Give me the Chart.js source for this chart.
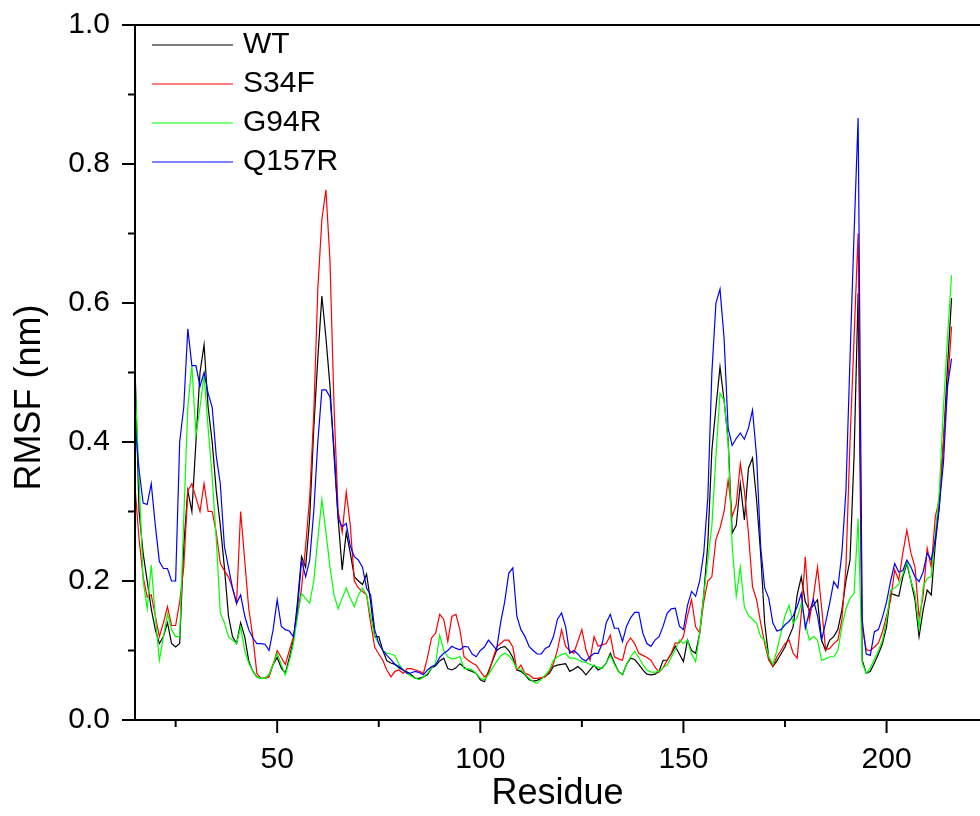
<!DOCTYPE html>
<html>
<head>
<meta charset="utf-8">
<script src="https://cdn.jsdelivr.net/npm/chart.js@4.4.1/dist/chart.umd.min.js"></script>
<style>
  html, body { margin: 0; padding: 0; background: #fff; }
</style>
</head>
<body>
<canvas id="rmsfChart" width="980" height="816"></canvas>
<script>
// residues 15..216, one value per residue (nm)
const firstResidue = 15;

const wt = [
  0.51, 0.30, 0.24, 0.20, 0.16, 0.13, 0.11, 0.12, 0.14, 0.11,
  0.105, 0.11, 0.25, 0.33, 0.30, 0.40, 0.50, 0.54, 0.45, 0.40,
  0.33, 0.28, 0.22, 0.15, 0.12, 0.11, 0.14, 0.12, 0.085, 0.07,
  0.062, 0.06, 0.06, 0.065, 0.08, 0.09, 0.075, 0.067, 0.09, 0.115,
  0.17, 0.235, 0.22, 0.29, 0.42, 0.52, 0.61, 0.55, 0.48, 0.38,
  0.29, 0.216, 0.27, 0.24, 0.206, 0.20, 0.195, 0.21, 0.17, 0.12,
  0.12, 0.10, 0.085, 0.082, 0.08, 0.075, 0.072, 0.069, 0.065, 0.06,
  0.06, 0.062, 0.065, 0.075, 0.078, 0.085, 0.089, 0.074, 0.072, 0.075,
  0.081, 0.076, 0.072, 0.07, 0.067, 0.058, 0.055, 0.07, 0.085, 0.10,
  0.104, 0.106, 0.10, 0.09, 0.072, 0.07, 0.065, 0.058, 0.056, 0.057,
  0.06, 0.063, 0.067, 0.077, 0.079, 0.08, 0.081, 0.07, 0.073, 0.077,
  0.072, 0.065, 0.072, 0.079, 0.072, 0.075, 0.082, 0.096, 0.082, 0.07,
  0.065, 0.08, 0.089, 0.087, 0.08, 0.072, 0.066, 0.065, 0.066, 0.07,
  0.086, 0.086, 0.095, 0.106, 0.095, 0.084, 0.115, 0.10, 0.096, 0.125,
  0.18, 0.254, 0.388, 0.45, 0.508, 0.46, 0.403, 0.269, 0.28, 0.34,
  0.288, 0.362, 0.377, 0.317, 0.24, 0.14, 0.09, 0.077, 0.085, 0.095,
  0.105, 0.12, 0.134, 0.18, 0.206, 0.17, 0.158, 0.165, 0.173, 0.115,
  0.10, 0.115, 0.12, 0.13, 0.158, 0.20, 0.23, 0.38, 0.614, 0.086,
  0.067, 0.07, 0.082, 0.095, 0.11, 0.134, 0.182, 0.18, 0.178, 0.206,
  0.225, 0.20, 0.173, 0.12, 0.158, 0.187, 0.18, 0.254, 0.307, 0.40,
  0.508, 0.607
];

const s34f = [
  0.336, 0.26, 0.206, 0.177, 0.18, 0.15, 0.12, 0.14, 0.163, 0.136,
  0.136, 0.17, 0.22, 0.33, 0.34, 0.32, 0.30, 0.34, 0.30, 0.30,
  0.27, 0.225, 0.215, 0.206, 0.19, 0.168, 0.30, 0.23, 0.16, 0.12,
  0.067, 0.06, 0.06, 0.062, 0.08, 0.10, 0.09, 0.08, 0.10, 0.12,
  0.15, 0.19, 0.25, 0.32, 0.44, 0.62, 0.72, 0.763, 0.66, 0.45,
  0.30, 0.27, 0.328, 0.28, 0.20, 0.19, 0.185, 0.18, 0.14, 0.105,
  0.095, 0.086, 0.072, 0.062, 0.07, 0.072, 0.067, 0.074, 0.074, 0.072,
  0.07, 0.067, 0.09, 0.118, 0.125, 0.152, 0.145, 0.113, 0.149, 0.152,
  0.129, 0.091, 0.086, 0.082, 0.079, 0.07, 0.062, 0.067, 0.086, 0.105,
  0.11, 0.115, 0.115, 0.105, 0.072, 0.079, 0.067, 0.065, 0.06, 0.06,
  0.061, 0.062, 0.07, 0.081, 0.101, 0.13, 0.106, 0.10, 0.096, 0.113,
  0.13, 0.101, 0.086, 0.12, 0.106, 0.108, 0.11, 0.122, 0.091, 0.088,
  0.086, 0.11, 0.118, 0.11, 0.096, 0.093, 0.09, 0.086, 0.076, 0.069,
  0.075, 0.086, 0.096, 0.111, 0.111, 0.12, 0.15, 0.173, 0.134, 0.125,
  0.17, 0.20, 0.206, 0.26, 0.276, 0.30, 0.345, 0.293, 0.31, 0.369,
  0.33, 0.269, 0.192, 0.173, 0.14, 0.11, 0.086, 0.077, 0.091, 0.10,
  0.11, 0.115, 0.096, 0.089, 0.153, 0.235, 0.144, 0.178, 0.22, 0.163,
  0.101, 0.103, 0.11, 0.115, 0.144, 0.22, 0.40, 0.55, 0.70, 0.134,
  0.101, 0.10, 0.105, 0.111, 0.127, 0.15, 0.173, 0.216, 0.201, 0.24,
  0.273, 0.24, 0.22, 0.147, 0.178, 0.247, 0.22, 0.293, 0.317, 0.40,
  0.48, 0.566
];

const g94r = [
  0.49, 0.35, 0.20, 0.16, 0.223, 0.149, 0.086, 0.12, 0.153, 0.13,
  0.12, 0.12, 0.29, 0.45, 0.51, 0.41, 0.45, 0.496, 0.42, 0.35,
  0.26, 0.154, 0.14, 0.12, 0.115, 0.11, 0.134, 0.10, 0.082, 0.07,
  0.062, 0.06, 0.06, 0.065, 0.08, 0.096, 0.08, 0.065, 0.085, 0.11,
  0.15, 0.182, 0.175, 0.168, 0.20, 0.26, 0.317, 0.27, 0.22, 0.18,
  0.16, 0.175, 0.19, 0.175, 0.163, 0.18, 0.19, 0.18, 0.15, 0.12,
  0.11, 0.10, 0.096, 0.095, 0.093, 0.08, 0.072, 0.067, 0.063, 0.06,
  0.058, 0.062, 0.067, 0.075, 0.082, 0.122, 0.10, 0.091, 0.088, 0.089,
  0.091, 0.074, 0.074, 0.072, 0.067, 0.06, 0.058, 0.065, 0.075, 0.084,
  0.092, 0.096, 0.093, 0.085, 0.074, 0.073, 0.066, 0.06, 0.055, 0.053,
  0.058, 0.065, 0.072, 0.086, 0.091, 0.094, 0.096, 0.089, 0.089, 0.087,
  0.084, 0.083, 0.08, 0.078, 0.076, 0.074, 0.082, 0.093, 0.08, 0.07,
  0.065, 0.08, 0.091, 0.099, 0.09, 0.08, 0.072, 0.069, 0.069, 0.07,
  0.075, 0.079, 0.09, 0.101, 0.115, 0.11, 0.115, 0.095, 0.084, 0.125,
  0.18, 0.23, 0.28, 0.38, 0.47, 0.46, 0.40, 0.25, 0.178, 0.22,
  0.163, 0.15, 0.145, 0.139, 0.12, 0.115, 0.091, 0.08, 0.10, 0.125,
  0.15, 0.165, 0.139, 0.147, 0.168, 0.139, 0.115, 0.12, 0.115, 0.086,
  0.088, 0.091, 0.091, 0.10, 0.134, 0.16, 0.175, 0.182, 0.29, 0.082,
  0.067, 0.075, 0.087, 0.10, 0.115, 0.144, 0.187, 0.19, 0.195, 0.21,
  0.228, 0.20, 0.182, 0.132, 0.192, 0.204, 0.206, 0.269, 0.33, 0.45,
  0.55, 0.64
];

const q157r = [
  0.427, 0.36, 0.312, 0.31, 0.34, 0.28, 0.228, 0.218, 0.218, 0.20,
  0.20, 0.40, 0.45, 0.563, 0.51, 0.51, 0.48, 0.50, 0.47, 0.45,
  0.38, 0.34, 0.25, 0.22, 0.19, 0.168, 0.18, 0.15, 0.13, 0.118,
  0.11, 0.11, 0.109, 0.10, 0.13, 0.173, 0.135, 0.13, 0.128, 0.12,
  0.16, 0.23, 0.206, 0.23, 0.30, 0.40, 0.475, 0.475, 0.465, 0.39,
  0.29, 0.278, 0.283, 0.25, 0.235, 0.23, 0.22, 0.19, 0.18, 0.13,
  0.11, 0.10, 0.093, 0.087, 0.08, 0.077, 0.072, 0.067, 0.068, 0.07,
  0.068, 0.065, 0.072, 0.077, 0.079, 0.09, 0.096, 0.10, 0.106, 0.103,
  0.101, 0.106, 0.105, 0.095, 0.091, 0.10, 0.105, 0.115, 0.108, 0.101,
  0.14, 0.17, 0.211, 0.219, 0.149, 0.13, 0.12, 0.106, 0.10, 0.095,
  0.095, 0.103, 0.106, 0.12, 0.145, 0.154, 0.134, 0.096, 0.10, 0.095,
  0.088, 0.085, 0.091, 0.096, 0.096, 0.11, 0.14, 0.152, 0.132, 0.132,
  0.113, 0.135, 0.147, 0.155, 0.155, 0.125, 0.11, 0.106, 0.115, 0.12,
  0.135, 0.154, 0.16, 0.161, 0.135, 0.13, 0.165, 0.185, 0.178, 0.20,
  0.24, 0.32, 0.50, 0.60, 0.62, 0.55, 0.42, 0.395, 0.405, 0.413,
  0.404, 0.42, 0.446, 0.38, 0.25, 0.19, 0.175, 0.14, 0.128, 0.13,
  0.137, 0.142, 0.15, 0.163, 0.182, 0.132, 0.155, 0.173, 0.15, 0.115,
  0.14, 0.168, 0.199, 0.19, 0.24, 0.33, 0.52, 0.70, 0.866, 0.144,
  0.095, 0.093, 0.127, 0.13, 0.148, 0.17, 0.20, 0.225, 0.213, 0.215,
  0.23, 0.22, 0.206, 0.199, 0.213, 0.24, 0.23, 0.26, 0.31, 0.37,
  0.48, 0.52
];

const seriesNames = ['WT', 'S34F', 'G94R', 'Q157R'];
const seriesColors = ['#000000', '#ff0000', '#00ff00', '#0000ff'];
const seriesValues = [wt, s34f, g94r, q157r];

const xMajorTicks = [50, 100, 150, 200];
const xMinorTicks = [25, 75, 125, 175];
const yMajorTicks = [0, 0.2, 0.4, 0.6, 0.8, 1.0];
const yMinorTicks = [0.1, 0.3, 0.5, 0.7, 0.9];
const yTitle = 'RMSF (nm)';

const residues = wt.map((_, i) => firstResidue + i);
const fontFamily = '"Liberation Sans", Arial, sans-serif';

// top frame line, axis lines, outward tick marks, y title and the legend
const frameAndLegend = {
  id: 'frameAndLegend',
  afterDraw(chart) {
    const { ctx, chartArea: a, scales } = chart;
    ctx.save();
    ctx.strokeStyle = '#000';
    ctx.lineWidth = 2;
    const seg = (x1, y1, x2, y2) => {
      ctx.beginPath(); ctx.moveTo(x1, y1); ctx.lineTo(x2, y2); ctx.stroke();
    };
    seg(a.left, a.top, a.right, a.top);
    seg(a.left, a.top - 1, a.left, a.bottom + 1);
    seg(a.left - 1, a.bottom, a.right, a.bottom);

    xMajorTicks.forEach(v => { const x = scales.x.getPixelForValue(v); seg(x, a.bottom, x, a.bottom + 13); });
    xMinorTicks.forEach(v => { const x = scales.x.getPixelForValue(v); seg(x, a.bottom, x, a.bottom + 7); });
    yMajorTicks.forEach(v => { const y = scales.y.getPixelForValue(v); seg(a.left - 13, y, a.left, y); });
    yMinorTicks.forEach(v => { const y = scales.y.getPixelForValue(v); seg(a.left - 7, y, a.left, y); });

    // y axis title, a little below the middle like the original
    ctx.fillStyle = '#000';
    ctx.font = '36px ' + fontFamily;
    ctx.textAlign = 'center';
    ctx.textBaseline = 'middle';
    ctx.save();
    ctx.translate(30, (a.top + a.bottom) / 2 + 25);
    ctx.rotate(-Math.PI / 2);
    ctx.fillText(yTitle, 0, 0);
    ctx.restore();

    // legend
    ctx.font = '30px ' + fontFamily;
    ctx.textAlign = 'left';
    chart.data.datasets.forEach((ds, i) => {
      const y = a.top + 20 + i * 39;
      ctx.strokeStyle = ds.borderColor;
      ctx.lineWidth = 1.2;
      seg(a.left + 17, y, a.left + 98, y);
      ctx.fillText(ds.label, a.left + 108, y);
    });
    ctx.restore();
  }
};

new Chart(document.getElementById('rmsfChart'), {
  type: 'line',
  data: {
    datasets: seriesNames.map((name, i) => ({
      label: name,
      data: seriesValues[i].map((v, j) => ({ x: residues[j], y: v })),
      borderColor: seriesColors[i],
      borderWidth: 1.2,
      pointRadius: 0,
      tension: 0,
      fill: false,
      order: seriesNames.length - i
    }))
  },
  options: {
    responsive: false,
    animation: false,
    devicePixelRatio: 1,
    layout: { padding: { top: 25, right: 0, left: 0, bottom: 0 } },
    plugins: {
      legend: { display: false },
      tooltip: { enabled: false }
    },
    scales: {
      x: {
        type: 'linear',
        min: 15,
        max: 223,
        afterBuildTicks: s => { s.ticks = xMajorTicks.map(v => ({ value: v })); },
        afterFit: s => { s.height = 96; s.paddingLeft = 0; s.paddingRight = 0; },
        grid: { display: false, drawTicks: false },
        border: { display: false },
        ticks: {
          color: '#000',
          font: { family: fontFamily, size: 30 },
          padding: 22,
          maxRotation: 0,
          autoSkip: false,
          callback: v => String(v)
        },
        title: {
          display: true,
          text: 'Residue',
          color: '#000',
          font: { family: fontFamily, size: 36 },
          padding: { top: 0, bottom: 0 }
        }
      },
      y: {
        min: 0,
        max: 1,
        afterBuildTicks: s => { s.ticks = yMajorTicks.map(v => ({ value: v })); },
        // keep the plot top where the original has it; the tick padding would push it down
        afterFit: s => { s.width = 135; s.paddingTop = 0; s.paddingBottom = 0; },
        grid: { display: false, drawTicks: false },
        border: { display: false },
        ticks: {
          color: '#000',
          font: { family: fontFamily, size: 30 },
          padding: 25,
          callback: v => v.toFixed(1)
        },
        title: { display: false }
      }
    }
  },
  plugins: [frameAndLegend]
});
</script>
</body>
</html>
